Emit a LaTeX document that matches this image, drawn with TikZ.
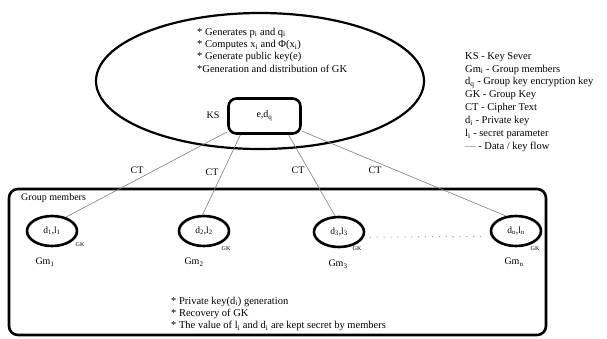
\documentclass[tikz,border=0pt]{standalone}
\usepackage{fontspec}
\setmainfont{Liberation Serif}
\usetikzlibrary{shapes.geometric,calc}
\definecolor{flowGray}{RGB}{125,125,125}
\newcommand{\ix}[1]{\textsubscript{#1}}
\tikzset{
    every node/.append style={align=left},
    server/.style={ellipse,draw=black,line width=2.2pt,minimum width=328pt,minimum height=136pt},
    ksbox/.style={rectangle,draw=black,line width=2.6pt,rounded corners=8pt,minimum width=72pt,
        minimum height=35pt,font=\fontsize{10}{12}\selectfont},
    member/.style={ellipse,draw=black,line width=2.6pt,minimum width=50pt,minimum height=30pt,
        inner sep=0pt,font=\fontsize{9.5}{11}\selectfont},
    boundary/.style={rectangle,draw=black,line width=2.6pt,rounded corners=9pt,minimum width=537pt,
        minimum height=146pt},
    flow/.style={draw=flowGray,line width=0.6pt},
    dots/.style={draw=flowGray,line width=0.9pt,dash pattern=on 0.9pt off 6pt,shorten <=6pt,shorten >=6pt},
    lbl/.style={font=\fontsize{10}{12}\selectfont,inner sep=0pt},
    gk/.style={font=\fontsize{6}{7}\selectfont,inner sep=0pt},
    txt/.style={font=\fontsize{10.5}{12.3}\selectfont,inner sep=0pt,anchor=west},
    legend/.style={font=\fontsize{10.5}{12.9}\selectfont,inner sep=0pt,anchor=west}
}
\begin{document}
\begin{tikzpicture}[x=1pt,y=-1pt]
    \useasboundingbox (0,0) rectangle (607,338);

    % key server
    \node[server] (server) at (260,81) {};
    \node[txt] (tasks) at (197,50) {* Generates p\ix{i} and q\ix{i}\\* Computes x\ix{i} and Φ(x\ix{i})\\
        * Generate public key(e)\\*Generation and distribution of GK};
    \node[ksbox] (ks) at (264.5,116) {e,d\ix{q}};
    \node[lbl] (kslbl) at (213,115) {KS};

    % legend
    \node[legend] (legend) at (465,102) {KS - Key Sever\\Gm\ix{i} - Group members\\
        d\ix{q} - Group key encryption key\\GK - Group Key\\CT - Cipher Text\\d\ix{i} - Private key\\
        l\ix{i} - secret parameter\\{\color{flowGray}\textemdash} - Data / key flow};

    % group members
    \node[boundary] (group) at (277.5,262) {};
    \node[lbl,anchor=west] (grouplbl) at (21,198) {Group members};

    \node[member] (m1) at (52,231)  {d\ix{1},l\ix{1}};
    \node[member] (m2) at (204,231) {d\ix{2},l\ix{2}};
    \node[member] (m3) at (339,232) {d\ix{3},l\ix{3}};
    \node[member] (mn) at (516,231) {d\ix{n},l\ix{n}};

    \node[gk] (gk1) at (80,245)  {GK};
    \node[gk] (gk2) at (226,249) {GK};
    \node[gk] (gk3) at (357,249) {GK};
    \node[gk] (gkn) at (535,249) {GK};

    \node[lbl] (gm1) at (45,262)  {Gm\ix{1}};
    \node[lbl] (gm2) at (194,262) {Gm\ix{2}};
    \node[lbl] (gm3) at (338,264) {Gm\ix{3}};
    \node[lbl] (gmn) at (514,262) {Gm\ix{n}};

    \node[txt] (duties) at (171,314) {* Private key(d\ix{i}) generation\\* Recovery of GK\\
        * The value of l\ix{i} and d\ix{i} are kept secret by members};

    % data / key flow
    \draw[flow] (ks.203)   -- (m1.45);
    \draw[flow] (ks.218)   -- (m2.95);
    \draw[flow] (ks.322)   -- (m3.104);
    \draw[flow] (ks.338)   -- (mn.124);
    \draw[dots] (m3.-12) -- (mn.192);

    \node[lbl] (ct1) at (137,170) {CT};
    \node[lbl] (ct2) at (212,172) {CT};
    \node[lbl] (ct3) at (298,170) {CT};
    \node[lbl] (ct4) at (375,170) {CT};
\end{tikzpicture}
\end{document}
